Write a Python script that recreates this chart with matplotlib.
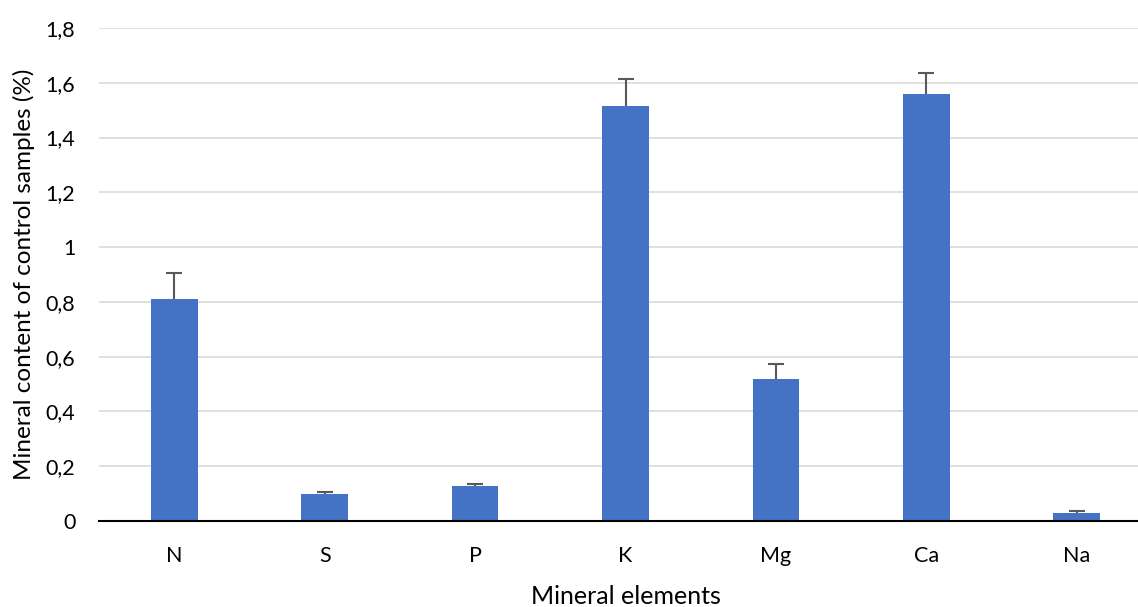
import numpy as np
import matplotlib
matplotlib.use("Agg")
import matplotlib.pyplot as plt
from matplotlib.ticker import FuncFormatter

# data
elements = ["N", "S", "P", "K", "Mg", "Ca", "Na"]
content = [0.81, 0.097, 0.127, 1.515, 0.52, 1.56, 0.03]
err_up = [0.094, 0.009, 0.008, 0.10, 0.052, 0.074, 0.005]

plt.rcParams['font.family'] = ['Lato', 'DejaVu Sans']

fig = plt.figure(figsize=(11.38, 6.07), dpi=100)
# plot area runs a little past the right edge, as in the cropped original
ax = fig.add_axes([99 / 1138, 1 - 521 / 607, 1053 / 1138, (521 - 28) / 607])

x = np.arange(len(elements))
ax.bar(x, content, width=0.31, color='#4472c4', zorder=3)
_, caps, _ = ax.errorbar(x, content, yerr=[np.zeros(len(err_up)), err_up], fmt='none',
                         ecolor='#595959', elinewidth=1.5, capsize=6, capthick=1.5, zorder=4)
caps[0].set_visible(False)  # only the upper cap

ax.set_xlim(-0.5, len(elements) - 0.5)
ax.set_ylim(0, 1.8)
ax.set_yticks(np.arange(0, 1.81, 0.2))
ax.yaxis.set_major_formatter(FuncFormatter(
    lambda v, p: ('%g' % round(v, 1)).replace('.', ',')))
ax.set_xticks(x)
ax.set_xticklabels(elements)

ax.grid(axis='y', color='#d9d9d9', linewidth=1.2, zorder=0)
for s in ['top', 'right', 'left']:
    ax.spines[s].set_visible(False)
ax.spines['bottom'].set_color('black')
ax.spines['bottom'].set_linewidth(1.5)
ax.spines['bottom'].set_zorder(5)
ax.tick_params(axis='both', length=0, labelsize=15.5, colors='black')
ax.tick_params(axis='x', pad=18)
ax.tick_params(axis='y', pad=17)

ax.set_xlabel('Mineral elements', fontsize=18, labelpad=14)
ax.set_ylabel('Mineral content of control samples (%)', fontsize=17.5, labelpad=8)

fig.savefig('out.png', dpi=100)
